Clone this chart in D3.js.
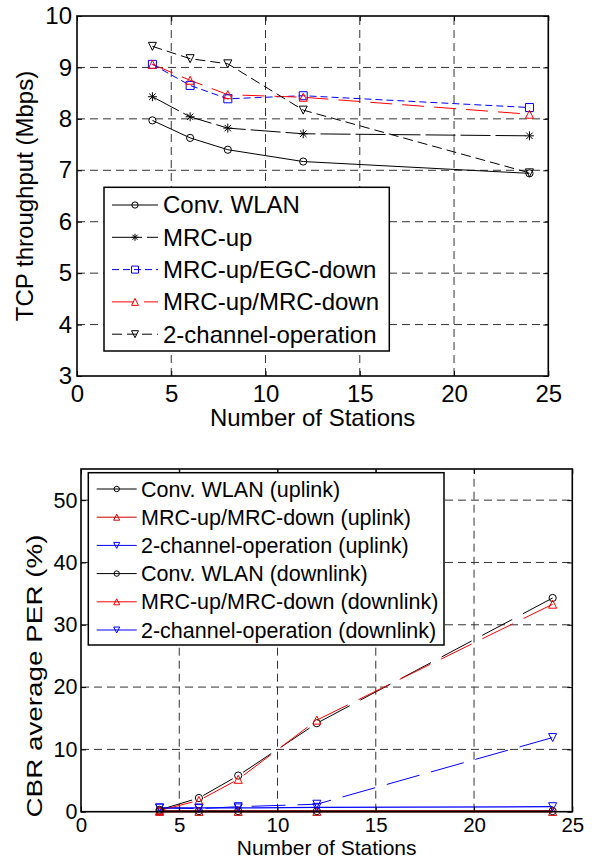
<!DOCTYPE html>
<html>
<head>
<meta charset="utf-8">
<script src="https://cdn.jsdelivr.net/npm/d3@7"></script>
<style>
  html, body { margin: 0; padding: 0; background: #fff; }
  svg { display: block; font-family: "Liberation Sans", Arial, sans-serif; }
</style>
</head>
<body>
<svg id="fig" width="592" height="860"></svg>
<script>
// ---- data: TCP throughput ----
const stations = [4, 6, 8, 12, 24];
const tcpConvWlan = [7.97, 7.63, 7.40, 7.17, 6.94];
const tcpMrcUp = [8.43, 8.04, 7.82, 7.71, 7.67];
const tcpMrcUpEgcDown = [9.06, 8.65, 8.39, 8.45, 8.22];
const tcpMrcUpMrcDown = [9.06, 8.75, 8.47, 8.42, 8.09];
const tcpTwoChannel = [9.41, 9.17, 9.07, 8.17, 6.95];
const tcpLabels = ["Conv. WLAN", "MRC-up", "MRC-up/EGC-down", "MRC-up/MRC-down", "2-channel-operation"];
const tcpYTicks = [3, 4, 5, 6, 7, 8, 9, 10];
const xTicks = [0, 5, 10, 15, 20, 25];

// ---- data: CBR packet error rate ----
const perConvUp = [0.1, 0.1, 0.1, 0.1, 0.1];
const perMrcUp = [0.05, 0.05, 0.05, 0.05, 0.05];
const perTwoUp = [0.6, 0.6, 0.6, 0.7, 0.8];
const perConvDown = [0.3, 2.2, 5.8, 14.2, 34.3];
const perMrcDown = [0.2, 1.8, 5.2, 14.7, 33.3];
const perTwoDown = [0.6, 0.5, 0.8, 1.2, 11.9];
const perLabels = ["Conv. WLAN (uplink)", "MRC-up/MRC-down (uplink)", "2-channel-operation (uplink)",
                   "Conv. WLAN (downlink)", "MRC-up/MRC-down (downlink)", "2-channel-operation (downlink)"];
const perYTicks = [0, 10, 20, 30, 40, 50];

const svg = d3.select("#fig");

// marker path generators (centred on the bounding box)
function markerPath(kind, s) {
  const h = s / 2;
  switch (kind) {
    case "circle": { const p = d3.path(); p.arc(0, 0, h * 0.9, 0, 2 * Math.PI); return p.toString(); }
    case "square": return `M${-h},${-h}H${h}V${h}H${-h}Z`;
    case "up": return `M0,${-h}L${h},${h}L${-h},${h}Z`;
    case "down": return `M0,${h}L${h},${-h}L${-h},${-h}Z`;
    case "star": {
      const d = h * 0.72;
      return `M${-h},0H${h}M0,${-h}V${h}M${-d},${-d}L${d},${d}M${-d},${d}L${d},${-d}`;
    }
  }
  return "";
}

function drawPanel(cfg) {
  const g = svg.append("g");
  const x = d3.scaleLinear().domain([0, 25]).range([cfg.left, cfg.right]);
  const y = d3.scaleLinear().domain(cfg.yDomain).range([cfg.bottom, cfg.top]);

  // dashed grid at interior ticks
  const grid = g.append("g").attr("stroke", "#333").attr("stroke-width", 1).attr("stroke-dasharray", "8,5");
  xTicks.filter(t => t > 0 && t < 25).forEach(t => {
    grid.append("line").attr("x1", x(t)).attr("x2", x(t)).attr("y1", cfg.bottom).attr("y2", cfg.top);
  });
  cfg.yTicks.filter(t => t > cfg.yDomain[0] && t < cfg.yDomain[1]).forEach(t => {
    grid.append("line").attr("x1", cfg.left).attr("x2", cfg.right).attr("y1", y(t)).attr("y2", y(t));
  });

  // data series
  const line = d3.line().x((d, i) => x(stations[i])).y(d => y(d));
  cfg.series.forEach(s => {
    g.append("path").datum(s.values).attr("d", line)
      .attr("fill", "none").attr("stroke", s.color).attr("stroke-width", s.width || 1)
      .attr("stroke-dasharray", s.dash || null);
  });
  cfg.series.forEach(s => {
    g.selectAll(null).data(s.values).enter().append("path")
      .attr("transform", (d, i) => `translate(${x(stations[i])},${y(d)})`)
      .attr("d", markerPath(s.marker, s.msize))
      .attr("fill", "none").attr("stroke", s.color).attr("stroke-width", 1);
  });

  // axes with inward ticks
  const ax = g.append("g").attr("transform", `translate(0,${cfg.bottom})`)
    .call(d3.axisBottom(x).tickValues(xTicks).tickSize(-5).tickPadding(cfg.xPad).tickFormat(d3.format("d")));
  const ay = g.append("g").attr("transform", `translate(${cfg.left},0)`)
    .call(d3.axisLeft(y).tickValues(cfg.yTicks).tickSize(-5).tickPadding(cfg.yPad).tickFormat(d3.format("d")));
  const at = g.append("g").attr("transform", `translate(0,${cfg.top})`)
    .call(d3.axisTop(x).tickValues(xTicks).tickSize(-5).tickFormat(""));
  const ar = g.append("g").attr("transform", `translate(${cfg.right},0)`)
    .call(d3.axisRight(y).tickValues(cfg.yTicks).tickSize(-5).tickFormat(""));
  [ax, ay, at, ar].forEach(a => {
    a.select(".domain").remove();
    a.selectAll("line").attr("stroke", "#000");
    a.selectAll("text").attr("fill", "#000").attr("font-family", null);
  });
  ax.selectAll("text").attr("font-size", (cfg.xTickFont || cfg.fontSize) + "px");
  ay.selectAll("text").attr("font-size", cfg.fontSize + "px");

  // axes box
  g.append("rect").attr("x", cfg.left).attr("y", cfg.top)
    .attr("width", cfg.right - cfg.left).attr("height", cfg.bottom - cfg.top)
    .attr("fill", "none").attr("stroke", "#000").attr("stroke-width", 1.6);

  // axis titles
  g.append("text").attr("x", (cfg.left + cfg.right) / 2).attr("y", cfg.xTitleY)
    .attr("text-anchor", "middle").attr("font-size", (cfg.xTitleFont || cfg.fontSize) + "px")
    .text("Number of Stations");
  const yt = g.append("text")
    .attr("transform", `translate(${cfg.yTitleX},${cfg.yTitleCy}) rotate(-90)`)
    .attr("text-anchor", "middle").attr("font-size", (cfg.yTitleFont || cfg.fontSize) + "px")
    .text(cfg.yTitle);
  if (cfg.yTitleLen) yt.attr("textLength", cfg.yTitleLen).attr("lengthAdjust", "spacingAndGlyphs");

  // legend
  const L = cfg.legend;
  const lg = g.append("g");
  lg.append("rect").attr("x", L.x0).attr("y", L.y0).attr("width", L.x1 - L.x0).attr("height", L.y1 - L.y0)
    .attr("fill", "#fff").attr("stroke", "#000").attr("stroke-width", 1.5);
  cfg.series.forEach((s, i) => {
    const ry = L.row0 + i * L.step;
    lg.append("line").attr("x1", L.lx0).attr("x2", L.lx1).attr("y1", ry).attr("y2", ry)
      .attr("stroke", s.color).attr("stroke-width", 1)
      .attr("stroke-dasharray", L.solid ? null : (s.dash || null));
    lg.append("path").attr("transform", `translate(${(L.lx0 + L.lx1) / 2},${ry})`)
      .attr("d", markerPath(s.marker, L.msize)).attr("fill", "none").attr("stroke", s.color);
    lg.append("text").attr("x", L.tx).attr("y", ry).attr("dy", "0.35em")
      .attr("font-size", L.fontSize + "px").text(cfg.labels[i]);
  });
}

// upper panel: TCP throughput
drawPanel({
  left: 77, right: 548.3, top: 16, bottom: 376,
  yDomain: [3, 10], yTicks: tcpYTicks, fontSize: 24, xPad: 8.5, yPad: 5,
  xTitleY: 426, yTitle: "TCP throughput (Mbps)", yTitleX: 33, yTitleCy: 196,
  labels: tcpLabels,
  series: [
    { values: tcpConvWlan, color: "#000", marker: "circle", msize: 8 },
    { values: tcpMrcUp, color: "#000", marker: "star", msize: 9, dash: "30,5" },
    { values: tcpMrcUpEgcDown, color: "#0000ff", marker: "square", msize: 8, dash: "7,4" },
    { values: tcpMrcUpMrcDown, color: "#ff0000", marker: "up", msize: 8, dash: "22,10" },
    { values: tcpTwoChannel, color: "#000", marker: "down", msize: 8, dash: "10,5" }
  ],
  legend: { x0: 104, y0: 187.3, x1: 389.3, y1: 351, row0: 205, step: 32.3,
            lx0: 112, lx1: 158, tx: 163, fontSize: 24, msize: 7 }
});

// lower panel: CBR average PER
drawPanel({
  left: 81, right: 572.3, top: 469, bottom: 811.7,
  yDomain: [0, 55], yTicks: perYTicks, fontSize: 21.5, xTickFont: 20.5, xPad: 5.5, yPad: 3.5,
  xTitleY: 855, xTitleFont: 21, yTitle: "CBR average PER (%)", yTitleX: 42, yTitleCy: 676,
  yTitleFont: 22, yTitleLen: 283,
  labels: perLabels,
  series: [
    { values: perConvUp, color: "#000", marker: "circle", msize: 8, width: 1.5 },
    { values: perMrcUp, color: "#cc0000", marker: "up", msize: 8, width: 2 },
    { values: perTwoUp, color: "#0000ff", marker: "down", msize: 8, width: 1.2 },
    { values: perConvDown, color: "#000", marker: "circle", msize: 8, dash: "34,12" },
    { values: perMrcDown, color: "#ff0000", marker: "up", msize: 8, dash: "34,12" },
    { values: perTwoDown, color: "#0000ff", marker: "down", msize: 8, dash: "34,12" }
  ],
  legend: { x0: 88.3, y0: 472.7, x1: 444, y1: 645, row0: 489, step: 28.2, solid: true,
            lx0: 96.7, lx1: 136.7, tx: 141, fontSize: 21.5, msize: 6 }
});
</script>
</body>
</html>
